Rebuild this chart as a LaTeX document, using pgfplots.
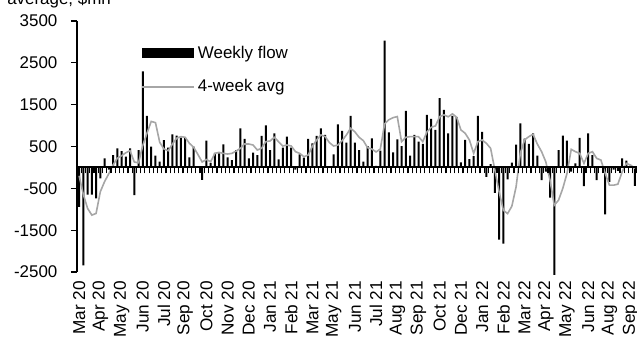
\documentclass[border=0pt]{standalone}
\usepackage{fontspec}
\setmainfont{Liberation Sans}
\usepackage{pgfplots}
\pgfplotsset{compat=1.18}
\usepackage{pgfplotstable}
\definecolor{avggrey}{RGB}{166,166,166}

\pgfplotstableread{
x flow avg
0 -944 -200
1 -2344 -650
2 -650 -980
3 -650 -1140
4 -740 -1100
5 -260 -580
6 216 -340
7 -50 -150
8 296 60
9 456 220
10 392 280
11 256 350
12 456 400
13 -664 130
14 416 110
15 2296 520
16 1232 820
17 496 1100
18 280 1070
19 136 600
20 650 440
21 476 400
22 790 560
23 760 700
24 712 736
25 704 720
26 240 576
27 496 480
28 20 310
29 -300 130
30 640 190
31 110 136
32 350 336
33 336 360
34 552 336
35 240 320
36 176 336
37 416 390
38 936 456
39 680 560
40 216 560
41 352 536
42 296 416
43 752 456
44 1008 616
45 416 632
46 816 720
47 192 616
48 472 512
49 736 536
50 472 512
51 -50 376
52 312 336
53 232 256
54 680 296
55 576 512
56 752 656
57 936 776
58 776 736
59 30 592
60 312 512
61 1032 536
62 872 640
63 592 776
64 1232 936
65 592 850
66 416 720
67 136 640
68 512 470
69 696 440
70 40 370
71 400 440
72 3032 1040
73 840 1140
74 360 1190
75 672 1216
76 512 616
77 1352 720
78 280 736
79 776 736
80 616 736
81 560 616
82 1256 850
83 1160 960
84 896 992
85 1656 1216
86 1376 1256
87 816 1210
88 1232 1280
89 1200 1200
90 120 896
91 656 816
92 200 656
93 272 336
94 1232 616
95 848 656
96 -224 576
97 80 456
98 -608 -64
99 -1728 -584
100 -1824 -1024
101 -288 -1104
102 112 -928
103 544 -464
104 1056 336
105 688 656
106 560 736
107 816 792
108 280 560
109 -304 380
110 -100 136
111 -720 -304
112 -2568 -904
113 416 -784
114 760 -504
115 640 -144
116 -100 432
117 96 376
118 704 336
119 -448 96
120 816 336
121 296 376
122 -304 216
123 0 176
124 -1120 -144
125 -344 -424
126 -50 -424
127 -80 -400
128 216 -104
129 160 96
130 50 56
131 -440 -24
}\data

\begin{document}
\fontsize{12.7}{15}\selectfont
\begin{tikzpicture}
\begin{axis}[
  at={(0,0)}, anchor=south west,
  scale only axis, width=420pt, height=188.25pt,
  xmin=-0.5, xmax=131.5, ymin=-2500, ymax=3500,
  axis y line=left, axis x line=bottom,
  axis line style={-, black, line width=1.4pt},
  x axis line style={draw=none},
  ytick={-2500,-1500,...,3500},
  xtick={0,5,...,130},
  xticklabels={Mar 20, Apr 20, May 20, Jun 20, Jul 20, Sep 20, Oct 20, Nov 20, Dec 20, Jan 21, Feb 21, Mar 21, May 21, Jun 21, Jul 21, Aug 21, Sep 21, Oct 21, Dec 21, Jan 22, Feb 22, Mar 22, Apr 22, May 22, Jun 22, Aug 22, Sep 22},
  tick align=outside,
  major tick length=4.5pt,
  tick style={black, line width=0.9pt},
  x tick style={draw=none},
  /pgf/number format/assume math mode=true,
  /pgf/number format/1000 sep={},
  tick label style={font=\fontsize{12.7}{15}\selectfont},
  yticklabel style={anchor=east, inner sep=0pt, xshift=-10pt},
  xticklabel style={yshift=-2pt, rotate=90, anchor=east, inner sep=0pt, font=\fontsize{12.9}{15}\selectfont},
  clip=false,
  legend style={at={(rel axis cs:0.115,0.912)}, anchor=north west, draw=none, fill=none,
    font=\fontsize{12.7}{15}\selectfont, row sep=10pt, inner sep=0pt},
  legend cell align=left,
]
\addplot[ybar, bar width=1.5pt, bar shift=0pt, fill=black, draw=none,
  legend image code/.code={\fill[black] (0pt,-3.75pt) rectangle (39pt,3.75pt);}]
  table[x=x, y=flow]{\data};
\addlegendentry{Weekly flow}
\addplot[avggrey, line width=1.2pt, mark=none,
  legend image code/.code={\draw[avggrey, line width=1.2pt] (0pt,0pt) -- (39pt,0pt);}]
  table[x=x, y=avg]{\data};
\addlegendentry{4-week avg}
\end{axis}
% zero line with weekly tick marks (category axis crossing at 0)
\begin{axis}[
  at={(0pt,78.4375pt)}, anchor=south west,
  scale only axis, width=420pt, height=20pt,
  xmin=-0.5, xmax=131.5, ymin=0, ymax=1,
  axis x line=bottom, axis y line=none,
  axis line style={-, black, line width=1.4pt},
  xtick={-0.5,0.5,...,131.5},
  xticklabels={},
  tick align=outside,
  major tick length=4.5pt,
  x tick style={black, line width=0.9pt},
]
\end{axis}
\node[anchor=base west, inner sep=0pt] at (-52.5pt,201pt) {average, \$mn};
\pgfresetboundingbox
\useasboundingbox (-57.75pt,-48.75pt) rectangle (420pt,204pt);
\end{tikzpicture}
\end{document}
